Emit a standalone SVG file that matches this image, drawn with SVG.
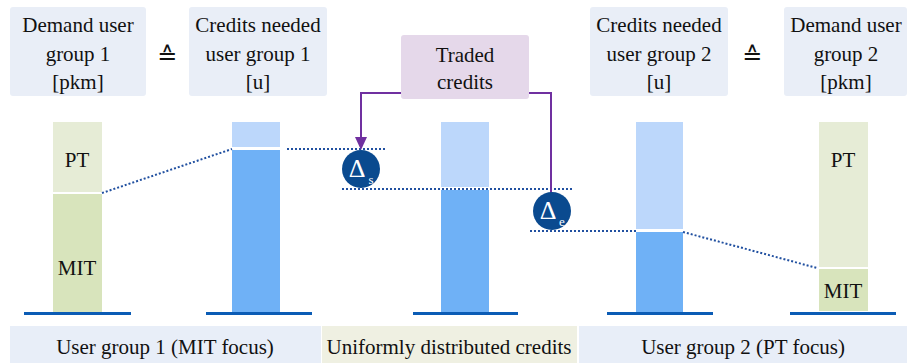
<svg xmlns="http://www.w3.org/2000/svg" width="908" height="363" viewBox="0 0 908 363" font-family="Liberation Serif, Times New Roman, serif">
<defs>
<style>
.t{font-size:21px;fill:#111;text-anchor:middle}
.hb{fill:#e9eef7}
.pt{fill:#e6ecd6}
.mit{fill:#d8e4bc}
.lb{fill:#bcd7fb}
.db{fill:#6fb1f6}
.base{stroke:#0b5cb5;stroke-width:3}
.dot{stroke:#2150a0;stroke-width:2;stroke-dasharray:2 2;fill:none}
.pl{stroke:#7030a0;stroke-width:2;fill:none}
.circ{fill:#0a4a8f}
.dl{fill:#fff}
.eq{font-size:24px;fill:#111;text-anchor:middle}
</style>
</defs>
<rect width="908" height="363" fill="#fff"/>

<g id="hdr-demand1">
<rect class="hb" x="10" y="7" width="136" height="89" rx="3"/>
<text class="t" x="78" y="32">Demand user</text>
<text class="t" x="78" y="61">group 1</text>
<text class="t" x="78" y="89">[pkm]</text>
</g>
<g id="hdr-credits1">
<rect class="hb" x="189" y="7" width="138" height="89" rx="3"/>
<text class="t" x="258" y="32">Credits needed</text>
<text class="t" x="258" y="61">user group 1</text>
<text class="t" x="258" y="89">[u]</text>
</g>
<g id="hdr-credits2">
<rect class="hb" x="590" y="7" width="138" height="89" rx="3"/>
<text class="t" x="659" y="32">Credits needed</text>
<text class="t" x="659" y="61">user group 2</text>
<text class="t" x="659" y="89">[u]</text>
</g>
<g id="hdr-demand2">
<rect class="hb" x="784" y="7" width="123" height="89" rx="3"/>
<text class="t" x="846" y="32">Demand user</text>
<text class="t" x="846" y="61">group 2</text>
<text class="t" x="846" y="89">[pkm]</text>
</g>
<g id="eq1"><text class="eq" x="167" y="64" font-family="DejaVu Sans, sans-serif">≙</text></g>
<g id="eq2"><text class="eq" x="752" y="64" font-family="DejaVu Sans, sans-serif">≙</text></g>

<g id="traded">
<rect x="401" y="35" width="128" height="64" rx="3" fill="#e5d8ea"/>
<text class="t" x="465" y="62">Traded</text>
<text class="t" x="465" y="89">credits</text>
</g>

<g id="bar1">
<rect class="pt" x="53" y="122" width="49" height="70"/>
<rect class="mit" x="53" y="194" width="49" height="118"/>
<text class="t" x="77" y="167" font-size="20">PT</text>
<text class="t" x="77" y="275" font-size="20">MIT</text>
<line class="base" x1="24" y1="313.5" x2="131" y2="313.5"/>
</g>
<g id="bar2">
<rect class="lb" x="232" y="122" width="48" height="25"/>
<rect class="db" x="232" y="150" width="48" height="162"/>
<line class="base" x1="206" y1="313.5" x2="312" y2="313.5"/>
</g>
<g id="bar3">
<rect class="lb" x="441" y="122" width="48" height="65"/>
<rect class="db" x="441" y="190" width="48" height="122"/>
<line class="base" x1="413" y1="313.5" x2="518" y2="313.5"/>
</g>
<g id="bar4">
<rect class="lb" x="636" y="122" width="47" height="107"/>
<rect class="db" x="636" y="232" width="47" height="80"/>
<line class="base" x1="607" y1="313.5" x2="713" y2="313.5"/>
</g>
<g id="bar5">
<rect class="pt" x="819" y="122" width="49" height="145"/>
<rect class="mit" x="819" y="269" width="49" height="42"/>
<text class="t" x="843" y="167" font-size="20">PT</text>
<text class="t" x="843" y="298" font-size="20">MIT</text>
<line class="base" x1="790" y1="313.5" x2="896" y2="313.5"/>
</g>

<g id="connectors">
<line class="dot" x1="102" y1="193" x2="232" y2="149"/>
<line class="dot" x1="287" y1="149" x2="387" y2="149"/>
<line class="dot" x1="342" y1="189" x2="572" y2="189"/>
<line class="dot" x1="530" y1="231" x2="637" y2="231"/>
<line class="dot" x1="683" y1="232" x2="817" y2="268"/>
<path class="pl" d="M401,93 H361 V140"/>
<polygon points="355,137 367,137 361,150" fill="#7030a0"/>
<path class="pl" d="M529,93 H551 V193"/>
</g>

<g id="delta-s">
<circle class="circ" cx="361" cy="169" r="19"/>
<text class="dl" x="357" y="177" text-anchor="middle" font-size="26">Δ</text>
<text class="dl" x="371" y="184" text-anchor="middle" font-size="13">s</text>
</g>
<g id="delta-e">
<circle class="circ" cx="552" cy="211" r="19"/>
<text class="dl" x="548" y="219" text-anchor="middle" font-size="26">Δ</text>
<text class="dl" x="562" y="226" text-anchor="middle" font-size="13">e</text>
</g>

<g id="label-ug1">
<rect x="10" y="326" width="311" height="37" fill="#e8eef8"/>
<text class="t" x="165" y="354">User group 1 (MIT focus)</text>
</g>
<g id="label-uniform">
<rect x="322" y="326" width="255" height="37" fill="#eff0e2"/>
<text class="t" x="449" y="354">Uniformly distributed credits</text>
</g>
<g id="label-ug2">
<rect x="579" y="326" width="328" height="37" fill="#e8eef8"/>
<text class="t" x="743" y="354">User group 2 (PT focus)</text>
</g>
</svg>
